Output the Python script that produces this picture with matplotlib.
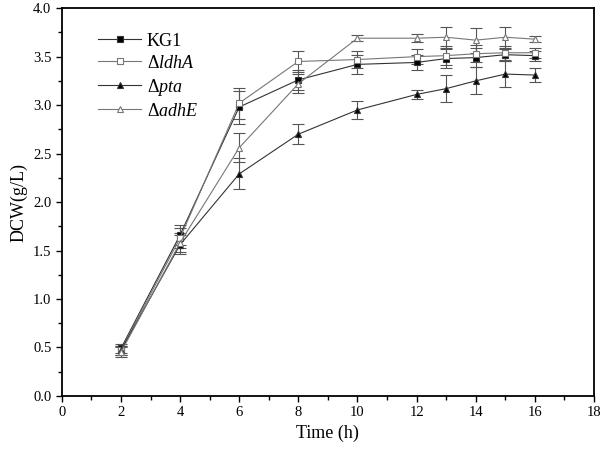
import numpy as np
import matplotlib
matplotlib.use('Agg')
import matplotlib.pyplot as plt
from matplotlib.ticker import MultipleLocator

plt.rcParams['font.family'] = ['Liberation Serif', 'DejaVu Serif']
plt.rcParams['mathtext.fontset'] = 'custom'
plt.rcParams['mathtext.rm'] = 'Liberation Serif'
plt.rcParams['mathtext.it'] = 'Liberation Serif:italic'

# 数据
time = [2, 4, 6, 8, 10, 12, 13, 14, 15, 16]
kg1 = [0.49, 1.66, 2.98, 3.26, 3.42, 3.44, 3.48, 3.49, 3.52, 3.51]
kg1_err = [0.05, 0.10, 0.17, 0.10, 0.10, 0.08, 0.10, 0.10, 0.06, 0.05]
ldha = [0.47, 1.63, 3.02, 3.45, 3.47, 3.50, 3.51, 3.53, 3.54, 3.54]
ldha_err = [0.05, 0.10, 0.16, 0.11, 0.09, 0.08, 0.10, 0.09, 0.07, 0.05]
pta = [0.47, 1.56, 2.29, 2.70, 2.95, 3.11, 3.17, 3.25, 3.32, 3.31]
pta_err = [0.05, 0.10, 0.16, 0.10, 0.09, 0.05, 0.14, 0.14, 0.13, 0.07]
adhe = [0.45, 1.58, 2.56, 3.22, 3.69, 3.69, 3.70, 3.67, 3.70, 3.68]
adhe_err = [0.05, 0.10, 0.15, 0.10, 0.03, 0.04, 0.11, 0.13, 0.11, 0.03]

fig = plt.figure(figsize=(6, 4.53), dpi=100)
ax = fig.add_axes([0.103, 0.126, 0.887, 0.856])

series = [
    (kg1, kg1_err, 's', '#000000', '#333333', 'KG1'),
    (ldha, ldha_err, 's', 'white', '#777777', r'Δ$\it{ldhA}$'),
    (pta, pta_err, '^', '#000000', '#333333', r'Δ$\it{pta}$'),
    (adhe, adhe_err, '^', 'white', '#777777', r'Δ$\it{adhE}$'),
]
handles = []
for y, e, m, fc, c, lab in series:
    h = ax.errorbar(time, y, yerr=e, color=c, lw=0.8, marker=m, ms=4.5,
                    mfc=fc, mec=c, mew=0.8, ecolor='#555555', elinewidth=0.8,
                    capsize=4, capthick=0.8, label=lab)
    handles.append(h[0])  # 图例只要线和标记

ax.set_xlim(0, 18)
ax.set_ylim(0, 4.0)
ax.xaxis.set_major_locator(MultipleLocator(2))
ax.xaxis.set_minor_locator(MultipleLocator(1))
ax.yaxis.set_major_locator(MultipleLocator(0.5))
ax.yaxis.set_minor_locator(MultipleLocator(0.25))
ax.yaxis.set_major_formatter(matplotlib.ticker.FormatStrFormatter('%.1f'))
ax.tick_params(which='both', direction='out', top=False, right=False, labelsize=10.5)
ax.tick_params(which='major', length=4, width=1)
ax.tick_params(which='minor', length=3, width=1)
for s in ax.spines.values():
    s.set_linewidth(1.3)

ax.set_xlabel('Time (h)', fontsize=13)
ax.set_ylabel('DCW(g/L)', fontsize=13)

ax.legend(handles, [s[5] for s in series], loc='upper left', frameon=False,
          fontsize=13, handlelength=2.4, handletextpad=0.3, labelspacing=0.28,
          bbox_to_anchor=(0.068, 0.937), borderaxespad=0, borderpad=0)

fig.savefig('out.png', dpi=100)
